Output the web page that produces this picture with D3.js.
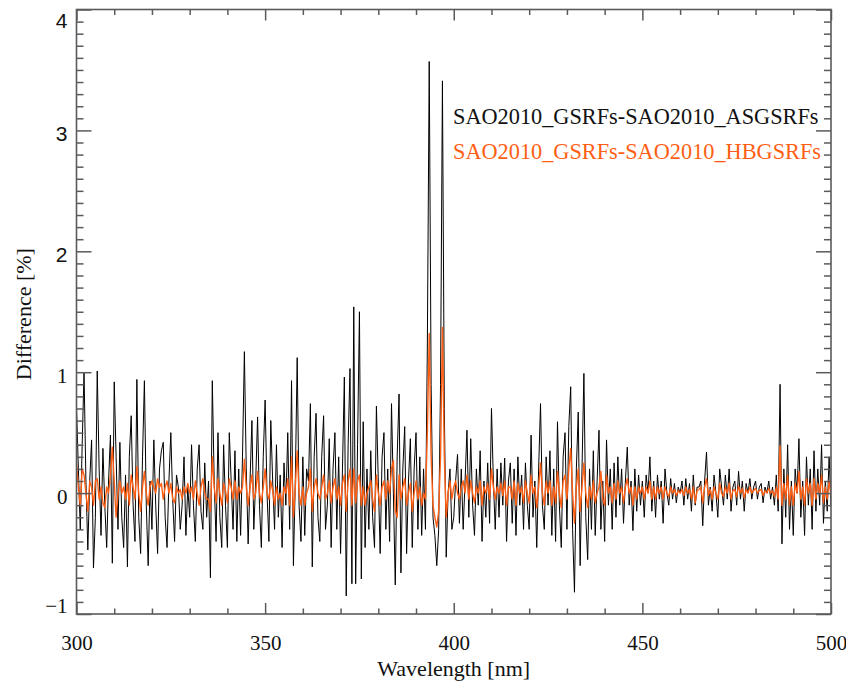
<!DOCTYPE html>
<html>
<head>
<meta charset="utf-8">
<script src="https://cdn.jsdelivr.net/npm/d3@7"></script>
<style>
  html, body { margin: 0; padding: 0; background: #fff; }
  svg { display: block; }
</style>
</head>
<body>
<svg id="chart" width="846" height="687"></svg>
<script>
// Sampling grid of the difference spectra (nm)
const wavelengthStart = 300;
const wavelengthStep = 0.5;

// SAO2010_GSRFs - SAO2010_ASGSRFs, percent, one value per 0.5 nm from 300 to 500 nm
const diffASG = [
  0.71, 0.2, -0.3, 0.4, 1.0, 0.1, -0.47, 0.1, 0.44, -0.62,
  -0.2, 1.01, 0.2, -0.35, 0.37, -0.1, -0.45, 0.1, 0.48, -0.58,
  0.92, 0.3, -0.3, 0.42, -0.2, -0.45, 0.15, -0.61, 0.3, 0.64,
  -0.1, -0.4, 0.94, -0.2, -0.5, 0.3, 0.93, -0.1, -0.6, 0.1,
  -0.3, 0.44, -0.1, -0.5, 0.2, 0.35, 0.42, -0.2, -0.45, 0.1,
  0.5, -0.05, -0.4, 0.15, 0.05, -0.3, -0.1, 0.3, -0.35, 0.05,
  -0.2, 0.4, -0.1, -0.4, 0.2, 0.4, -0.15, -0.3, 0.25, -0.2,
  0.1, -0.7, 0.93, 0.1, -0.4, 0.5, -0.2, -0.45, 0.4, -0.1,
  -0.45, 0.5, 0.1, -0.3, 0.35, -0.4, 0.2, -0.35, 0.3, 1.17,
  0.2, -0.42, 0.1, 0.6, -0.3, 0.1, 0.63, -0.1, -0.45, 0.3,
  0.77, 0.0, -0.4, 0.6, 0.1, -0.3, 0.4, -0.2, 0.15, -0.45,
  0.25, -0.1, 0.5, -0.3, 0.93, -0.6, 0.1, 1.12, -0.1, -0.4,
  0.3, -0.35, 0.2, 0.1, 0.74, -0.61, 0.3, 0.66, -0.2, -0.4,
  0.3, 0.64, -0.3, -0.1, 0.45, -0.45, 0.2, 0.5, -0.3, 0.3,
  -0.5, 0.2, 0.96, -0.85, 0.4, 1.03, -0.75, 1.54, -0.75, 0.4,
  1.5, -0.71, 0.59, -0.45, 0.2, -0.3, 0.35, -0.2, -0.45, 0.72,
  0.1, -0.5, 0.3, 0.5, -0.3, 0.2, -0.4, 0.74, 0.0, -0.76,
  0.3, 0.82, -0.66, 0.2, 0.55, -0.5, 0.1, 0.45, -0.45, 0.2,
  0.5, -0.3, 0.3, -0.35, 0.2, -0.3, 1.2, 3.57, 0.9, -0.2,
  -0.35, -0.6, -0.3, 0.9, 3.41, 0.7, -0.53, 0.0, 0.2, -0.3,
  -0.2, 0.1, 0.32, -0.25, 0.2, -0.3, 0.1, 0.52, -0.2, 0.45,
  -0.1, -0.35, 0.2, -0.1, 0.35, -0.4, 0.1, -0.2, 0.25, -0.25,
  0.7, 0.1, -0.3, 0.2, -0.2, 0.25, -0.1, 0.29, -0.4, 0.1,
  0.25, -0.25, 0.2, -0.35, 0.3, -0.1, 0.15, -0.3, 0.25, -0.1,
  -0.3, 0.48, -0.2, 0.1, -0.45, 0.2, 0.74, -0.1, -0.3, 0.3,
  -0.1, 0.35, -0.35, 0.2, -0.4, 0.59, -0.1, -0.45, 0.3, 0.5,
  -0.3, 0.55, 0.88, -0.3, -0.82, 0.2, 0.67, -0.6, 0.2, 0.99,
  -0.2, -0.55, 0.2, -0.3, 0.35, -0.35, 0.1, 0.52, -0.3, 0.1,
  -0.4, 0.44, -0.1, 0.2, -0.3, 0.25, -0.2, 0.3, -0.1, 0.2,
  -0.25, 0.1, 0.38, -0.1, 0.1, -0.31, 0.2, -0.15, 0.15, -0.1,
  0.1, -0.2, 0.15, 0.0, 0.3, -0.15, 0.1, -0.2, 0.15, -0.05,
  0.1, -0.25, 0.2, 0.0, -0.1, 0.12, -0.05, 0.08, -0.08, 0.05,
  0.0, 0.1, -0.1, 0.12, -0.05, 0.08, -0.15, 0.15, -0.1, 0.05,
  0.05, 0.1, -0.27, 0.1, 0.34, -0.1, 0.05, -0.15, 0.15, 0.0,
  -0.2, 0.2, 0.05, -0.1, 0.15, -0.05, 0.2, -0.15, 0.05, 0.1,
  -0.1, 0.18, -0.05, 0.1, -0.15, 0.08, 0.0, 0.12, -0.05, 0.05,
  0.1, -0.05, 0.05, 0.08, -0.08, 0.05, 0.0, 0.1, -0.05, 0.05,
  -0.1, 0.15, -0.15, 0.9, -0.42, 0.2, -0.2, 0.4, -0.3, 0.1,
  -0.35, 0.2, 0.0, 0.45, -0.2, 0.1, -0.35, 0.3, -0.1, 0.2,
  -0.3, 0.35, -0.15, 0.2, -0.1, 0.4, -0.25, 0.1, -0.15, 0.3,
  -0.1
];

// SAO2010_GSRFs - SAO2010_HBGSRFs, percent, same grid
const diffHBG = [
  0.25, 0.05, -0.1, 0.2, 0.15, 0.0, -0.15, 0.1, 0.05, -0.1,
  0.1, 0.12, -0.05, 0.05, -0.08, -0.12, 0.05, 0.0, 0.15, 0.38,
  0.1, -0.2, 0.0, 0.1, 0.0, 0.05, -0.05, 0.08, -0.1, 0.15,
  0.05, -0.05, 0.22, 0.0, -0.15, 0.05, 0.18, 0.0, -0.1, 0.05,
  0.1, 0.05, 0.0, 0.12, 0.05, 0.08, -0.05, 0.05, 0.1, 0.0,
  0.08, -0.05, -0.08, 0.05, 0.0, 0.03, -0.05, 0.05, 0.0, 0.08,
  0.0, 0.05, -0.05, 0.1, 0.0, -0.1, 0.05, 0.12, 0.0, -0.05,
  -0.05, -0.15, 0.3, 0.05, -0.08, 0.12, 0.0, -0.1, 0.08, 0.02,
  -0.08, 0.12, 0.05, -0.05, 0.1, -0.05, 0.05, 0.0, 0.05, 0.28,
  0.05, -0.1, 0.05, 0.15, -0.05, 0.0, 0.18, 0.0, -0.08, 0.05,
  0.2, 0.0, -0.05, 0.1, 0.02, -0.1, 0.05, -0.05, 0.0, -0.1,
  0.05, 0.0, 0.12, -0.1, 0.3, -0.2, 0.05, 0.35, 0.0, -0.1,
  0.05, -0.1, 0.0, 0.05, 0.2, -0.15, 0.05, 0.12, 0.0, -0.05,
  0.05, 0.15, -0.05, 0.0, 0.1, -0.08, 0.05, 0.12, -0.05, 0.05,
  -0.1, 0.08, 0.15, -0.15, 0.1, 0.2, -0.1, 0.2, -0.08, 0.1,
  0.15, -0.1, 0.05, -0.1, 0.0, 0.05, 0.1, -0.05, -0.15, 0.15,
  0.0, -0.1, 0.05, 0.1, -0.05, 0.1, 0.0, 0.2, 0.27, -0.15,
  -0.2, 0.15, -0.05, 0.05, 0.12, -0.1, 0.0, 0.08, -0.15, 0.0,
  0.1, -0.05, 0.05, -0.1, 0.0, -0.05, 0.5, 1.32, 0.3, -0.1,
  -0.2, -0.28, -0.15, 0.3, 1.37, 0.3, -0.2, 0.0, 0.1, -0.05,
  0.05, 0.1, 0.0, -0.05, 0.05, 0.1, 0.0, 0.15, -0.05, 0.1,
  0.0, -0.08, 0.05, 0.0, 0.1, -0.1, 0.05, 0.0, 0.08, -0.05,
  0.2, 0.05, -0.05, 0.05, 0.0, 0.08, -0.02, 0.1, -0.1, 0.05,
  0.05, -0.05, 0.1, -0.1, 0.08, 0.0, 0.05, -0.08, 0.1, 0.0,
  -0.08, 0.15, 0.0, 0.05, -0.12, 0.05, 0.25, 0.0, -0.1, 0.1,
  0.0, 0.1, -0.1, 0.05, -0.08, 0.18, 0.0, -0.12, 0.1, 0.15,
  -0.05, 0.2, 0.37, 0.0, -0.25, 0.05, 0.2, -0.15, 0.05, 0.25,
  0.0, -0.12, 0.05, -0.05, 0.1, -0.08, 0.0, 0.05, 0.18, -0.05,
  -0.1, 0.15, 0.0, 0.05, -0.08, 0.08, -0.05, 0.1, 0.0, 0.05,
  -0.08, 0.05, 0.12, 0.0, 0.05, -0.1, 0.05, -0.05, 0.05, 0.0,
  0.05, -0.05, 0.05, 0.0, 0.1, -0.05, 0.05, -0.05, 0.05, 0.0,
  0.05, -0.05, 0.05, 0.0, -0.03, 0.05, 0.0, 0.03, -0.02, 0.02,
  0.0, 0.03, -0.02, 0.05, 0.0, 0.03, -0.05, 0.05, -0.08, 0.02,
  0.03, 0.05, -0.08, 0.05, 0.12, -0.02, 0.03, -0.05, 0.05, 0.0,
  -0.05, 0.08, 0.0, -0.03, 0.05, 0.0, 0.08, -0.05, 0.02, 0.03,
  -0.03, 0.06, 0.0, 0.04, -0.04, 0.03, 0.0, 0.05, 0.0, 0.02,
  0.04, 0.0, 0.02, 0.03, -0.02, 0.02, 0.0, 0.04, 0.0, 0.02,
  -0.03, 0.05, -0.05, 0.39, -0.1, 0.08, -0.05, 0.15, -0.1, 0.05,
  -0.1, 0.08, 0.0, 0.18, -0.05, 0.05, -0.1, 0.12, 0.0, 0.08,
  -0.1, 0.12, -0.05, 0.08, 0.0, 0.15, -0.08, 0.05, -0.05, 0.1,
  -0.02
];

const xMajorTicks = [300, 350, 400, 450, 500];
const yMajorTicks = [-1, 0, 1, 2, 3, 4];
const seriesNames = ["SAO2010_GSRFs-SAO2010_ASGSRFs", "SAO2010_GSRFs-SAO2010_HBGSRFs"];
const seriesColors = ["#000000", "#ff5f14"];

const svg = d3.select("#chart");
const plot = { left: 76.5, right: 831, top: 9.5, bottom: 614 };

const x = d3.scaleLinear().domain([300, 500]).range([plot.left, plot.right]);
const y = d3.scaleLinear().domain([-1, 4]).range([plot.bottom, plot.top]);

const axisColor = "#5a5a5a";
const serif = "'Liberation Serif', 'Times New Roman', serif";
const sans = "'Liberation Sans', Arial, sans-serif";

// Spectra
const toPoints = vals => vals.map((v, i) => ({ w: wavelengthStart + i * wavelengthStep, v }));
const line = d3.line().x(d => x(d.w)).y(d => y(d.v));

svg.append("clipPath").attr("id", "plotClip")
  .append("rect")
  .attr("x", plot.left).attr("y", plot.top)
  .attr("width", plot.right - plot.left).attr("height", plot.bottom - plot.top);

const lines = svg.append("g").attr("clip-path", "url(#plotClip)");
lines.append("path")
  .datum(toPoints(diffASG))
  .attr("d", line)
  .attr("fill", "none")
  .attr("stroke", seriesColors[0])
  .attr("stroke-width", 1)
  .attr("stroke-linejoin", "round");
lines.append("path")
  .datum(toPoints(diffHBG))
  .attr("d", line)
  .attr("fill", "none")
  .attr("stroke", seriesColors[1])
  .attr("stroke-width", 1.4)
  .attr("stroke-linejoin", "round");

// Axis ticks on all four sides, pointing inward
const xMinor = d3.range(300, 501, 10).filter(v => v % 50 !== 0);
const yMinor = d3.range(-10, 41, 1).map(v => v / 10).filter(v => Math.abs(v - Math.round(v)) > 1e-9);

function styleAxis(g) {
  g.select(".domain").remove();
  g.selectAll(".tick line").attr("stroke", axisColor).attr("stroke-width", 1.5);
}

svg.append("g").attr("transform", `translate(0,${plot.bottom})`)
  .call(d3.axisBottom(x).tickValues(xMajorTicks).tickSize(-11).tickFormat(""))
  .call(styleAxis);
svg.append("g").attr("transform", `translate(0,${plot.bottom})`)
  .call(d3.axisBottom(x).tickValues(xMinor).tickSize(-5.5).tickFormat(""))
  .call(styleAxis);
svg.append("g").attr("transform", `translate(0,${plot.top})`)
  .call(d3.axisTop(x).tickValues(xMajorTicks).tickSize(-11).tickFormat(""))
  .call(styleAxis);
svg.append("g").attr("transform", `translate(0,${plot.top})`)
  .call(d3.axisTop(x).tickValues(xMinor).tickSize(-5.5).tickFormat(""))
  .call(styleAxis);

svg.append("g").attr("transform", `translate(${plot.left},0)`)
  .call(d3.axisLeft(y).tickValues(yMajorTicks).tickSize(-15).tickFormat(""))
  .call(styleAxis);
svg.append("g").attr("transform", `translate(${plot.left},0)`)
  .call(d3.axisLeft(y).tickValues(yMinor).tickSize(-7).tickFormat(""))
  .call(styleAxis);
svg.append("g").attr("transform", `translate(${plot.right},0)`)
  .call(d3.axisRight(y).tickValues(yMajorTicks).tickSize(-15).tickFormat(""))
  .call(styleAxis);
svg.append("g").attr("transform", `translate(${plot.right},0)`)
  .call(d3.axisRight(y).tickValues(yMinor).tickSize(-7).tickFormat(""))
  .call(styleAxis);

// Frame
svg.append("rect")
  .attr("x", plot.left).attr("y", plot.top)
  .attr("width", plot.right - plot.left).attr("height", plot.bottom - plot.top)
  .attr("fill", "none").attr("stroke", axisColor).attr("stroke-width", 1.6);

// Tick labels
const xLabels = svg.append("g").attr("transform", `translate(0,${plot.bottom})`)
  .call(d3.axisBottom(x).tickValues(xMajorTicks).tickSize(0).tickPadding(21).tickFormat(d3.format("d")));
xLabels.select(".domain").remove();
xLabels.selectAll("text")
  .attr("font-family", serif).attr("font-size", 21).attr("fill", "#111");

const yLabels = svg.append("g").attr("transform", `translate(${plot.left},0)`)
  .call(d3.axisLeft(y).tickValues(yMajorTicks).tickSize(0).tickPadding(9).tickFormat(d3.format("d")));
yLabels.select(".domain").remove();
yLabels.selectAll("text")
  .attr("font-size", 21).attr("fill", "#111")
  .attr("font-family", d => d >= 2 ? sans : serif)
  .attr("dy", d => d === 4 ? "0.85em" : d === -1 ? "-0.05em" : "0.5em");

// Axis titles
svg.append("text")
  .attr("x", x(400)).attr("y", 676)
  .attr("text-anchor", "middle")
  .attr("font-family", serif).attr("font-size", 22).attr("fill", "#111")
  .text("Wavelength [nm]");
svg.append("text")
  .attr("transform", `translate(31,${y(1.48)}) rotate(-90)`)
  .attr("text-anchor", "middle")
  .attr("font-family", serif).attr("font-size", 22).attr("fill", "#111")
  .text("Difference [%]");

// Legend
const legend = svg.append("g");
seriesNames.forEach((name, i) => {
  legend.append("text")
    .attr("x", 453).attr("y", 124 + i * 35)
    .attr("font-family", serif).attr("font-size", 22.3)
    .attr("fill", i === 0 ? "#111" : seriesColors[1])
    .text(name);
});
</script>
</body>
</html>
